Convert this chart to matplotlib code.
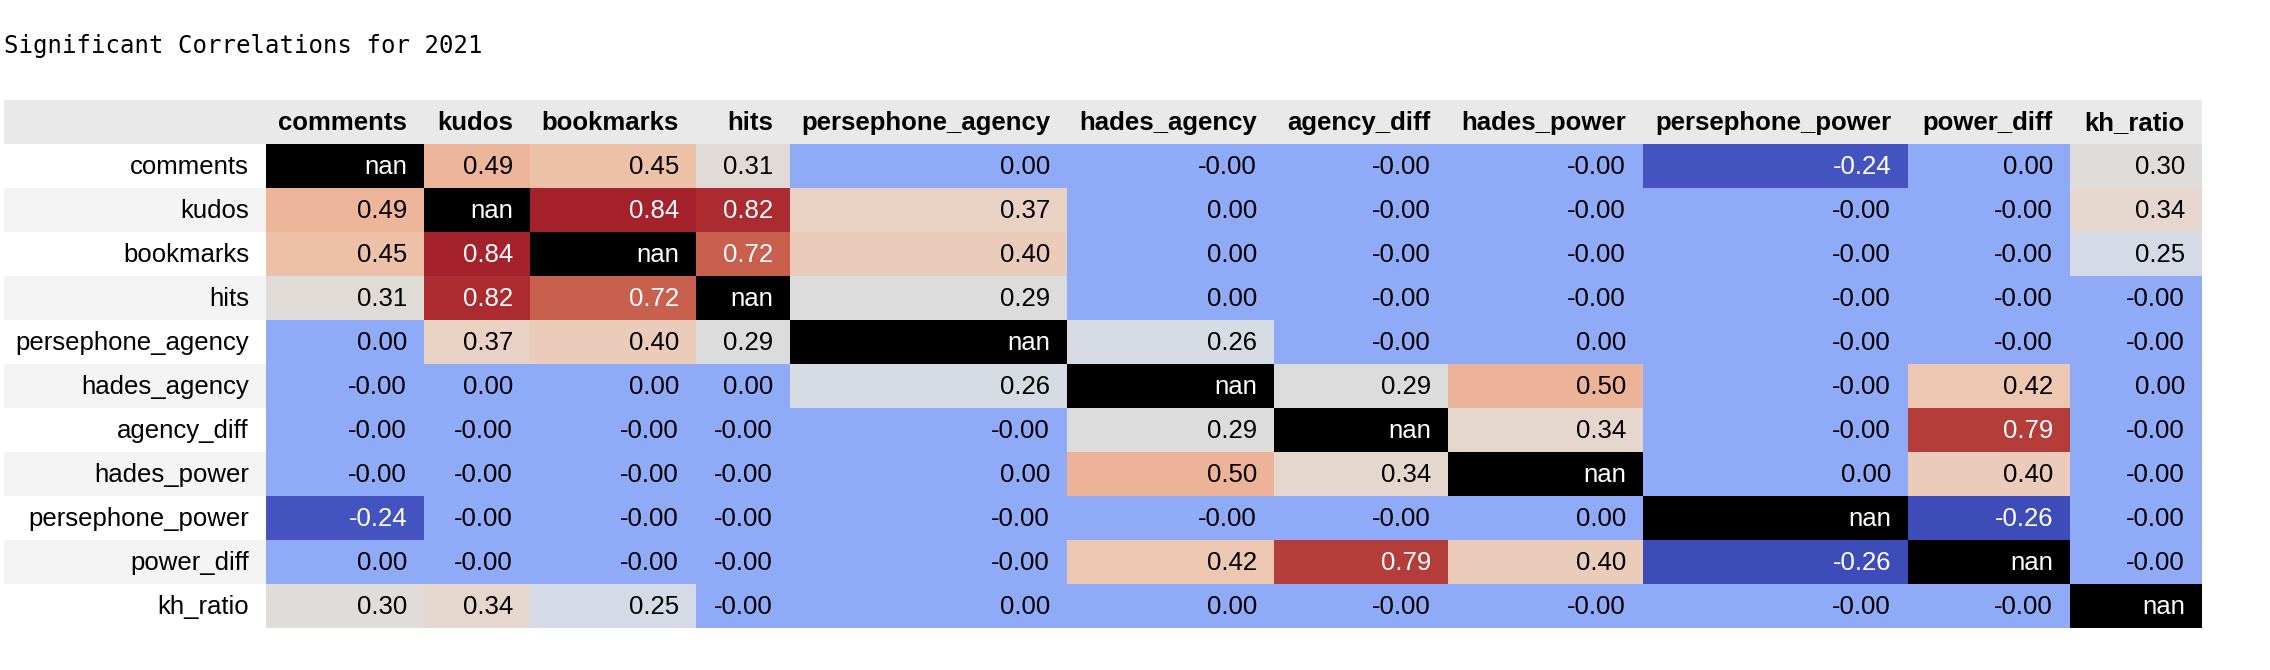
import numpy as np
import matplotlib
matplotlib.use("Agg")
import matplotlib.pyplot as plt
from matplotlib.colors import Normalize, ListedColormap

# data
title = "Significant Correlations for 2021"
labels = ["comments", "kudos", "bookmarks", "hits", "persephone_agency", "hades_agency",
          "agency_diff", "hades_power", "persephone_power", "power_diff", "kh_ratio"]
nan = np.nan
corr = np.array([
    [nan, 0.49, 0.45, 0.31, 0.00, -0.0, -0.0, -0.0, -0.24, 0.00, 0.30],
    [0.49, nan, 0.84, 0.82, 0.37, 0.00, -0.0, -0.0, -0.0, -0.0, 0.34],
    [0.45, 0.84, nan, 0.72, 0.40, 0.00, -0.0, -0.0, -0.0, -0.0, 0.25],
    [0.31, 0.82, 0.72, nan, 0.29, 0.00, -0.0, -0.0, -0.0, -0.0, -0.0],
    [0.00, 0.37, 0.40, 0.29, nan, 0.26, -0.0, 0.00, -0.0, -0.0, -0.0],
    [-0.0, 0.00, 0.00, 0.00, 0.26, nan, 0.29, 0.50, -0.0, 0.42, 0.00],
    [-0.0, -0.0, -0.0, -0.0, -0.0, 0.29, nan, 0.34, -0.0, 0.79, -0.0],
    [-0.0, -0.0, -0.0, -0.0, 0.00, 0.50, 0.34, nan, 0.00, 0.40, -0.0],
    [-0.24, -0.0, -0.0, -0.0, -0.0, -0.0, -0.0, 0.00, nan, -0.26, -0.0],
    [0.00, -0.0, -0.0, -0.0, -0.0, 0.42, 0.79, 0.40, -0.26, nan, -0.0],
    [0.30, 0.34, 0.25, -0.0, 0.00, 0.00, -0.0, -0.0, -0.0, -0.0, nan],
])

# layout (pixels)
col_edges = [266, 424, 530, 696, 790, 1067, 1274, 1448, 1643, 1908, 2070, 2202]
table_left = 4
header_top, header_h, row_h = 100, 44, 44
pad = 17
fs = 18.5


def to_lin(c):
    c = np.asarray(c)
    return np.where(c <= 0.04045, c / 12.92, ((c + 0.055) / 1.055) ** 2.4)


def from_lin(c):
    c = np.clip(c, 0, 1)
    return np.where(c <= 0.0031308, c * 12.92, 1.055 * c ** (1 / 2.4) - 0.055)


# the screenshot was taken on a P3 display, so shift coolwarm the same way
M = np.array([[0.8225, 0.1774, 0.0000],
              [0.0332, 0.9669, 0.0000],
              [0.0171, 0.0724, 0.9108]])
base = plt.get_cmap("coolwarm")
rgb = base(np.linspace(0, 1, 256))[:, :3]
p3 = from_lin(to_lin(rgb) @ M.T)
cmap = ListedColormap(p3)
cmap.set_bad("black")


def lum(rgba):
    ch = to_lin(rgba[:3])
    return 0.2126 * ch[0] + 0.7152 * ch[1] + 0.0722 * ch[2]


fig = plt.figure(figsize=(22.7, 6.7), dpi=100)
ax = fig.add_axes([0, 0, 1, 1])
ax.set_xlim(0, 2270)
ax.set_ylim(670, 0)
ax.axis("off")

ax.text(4, 46, title, family="DejaVu Sans Mono", fontsize=17.3, va="center", ha="left")

# header background
ax.add_patch(plt.Rectangle((table_left, header_top), col_edges[-1] - table_left, header_h,
                           color="#e9e9e9", lw=0))
n = len(labels)
row_edges = header_top + header_h + row_h * np.arange(n + 1)

# index stripes
for i in range(n):
    c = "#f4f4f4" if i % 2 == 1 else "white"
    ax.add_patch(plt.Rectangle((table_left, row_edges[i]), col_edges[0] - table_left, row_h,
                               color=c, lw=0))

norm = Normalize(np.nanmin(corr), np.nanmax(corr))
ax.pcolormesh(col_edges, row_edges, np.ma.masked_invalid(corr), cmap=cmap, norm=norm)

font = "Liberation Sans"
for j, lab in enumerate(labels):
    ax.text(col_edges[j + 1] - pad, header_top + header_h / 2 + 1, lab, ha="right", va="center",
            fontsize=fs, fontweight="bold", family=font)
for i, lab in enumerate(labels):
    yc = row_edges[i] + row_h / 2 + 1
    ax.text(col_edges[0] - pad, yc, lab, ha="right", va="center", fontsize=fs, family=font)
    for j in range(n):
        v = corr[i, j]
        if np.isnan(v):
            txt, tc = "nan", "white"
        else:
            txt = f"{v:.2f}"
            tc = "white" if lum(base(norm(v))) < 0.408 else "black"
        ax.text(col_edges[j + 1] - pad, yc, txt, ha="right", va="center", fontsize=fs,
                family=font, color=tc)

fig.savefig("out.png", dpi=100)
